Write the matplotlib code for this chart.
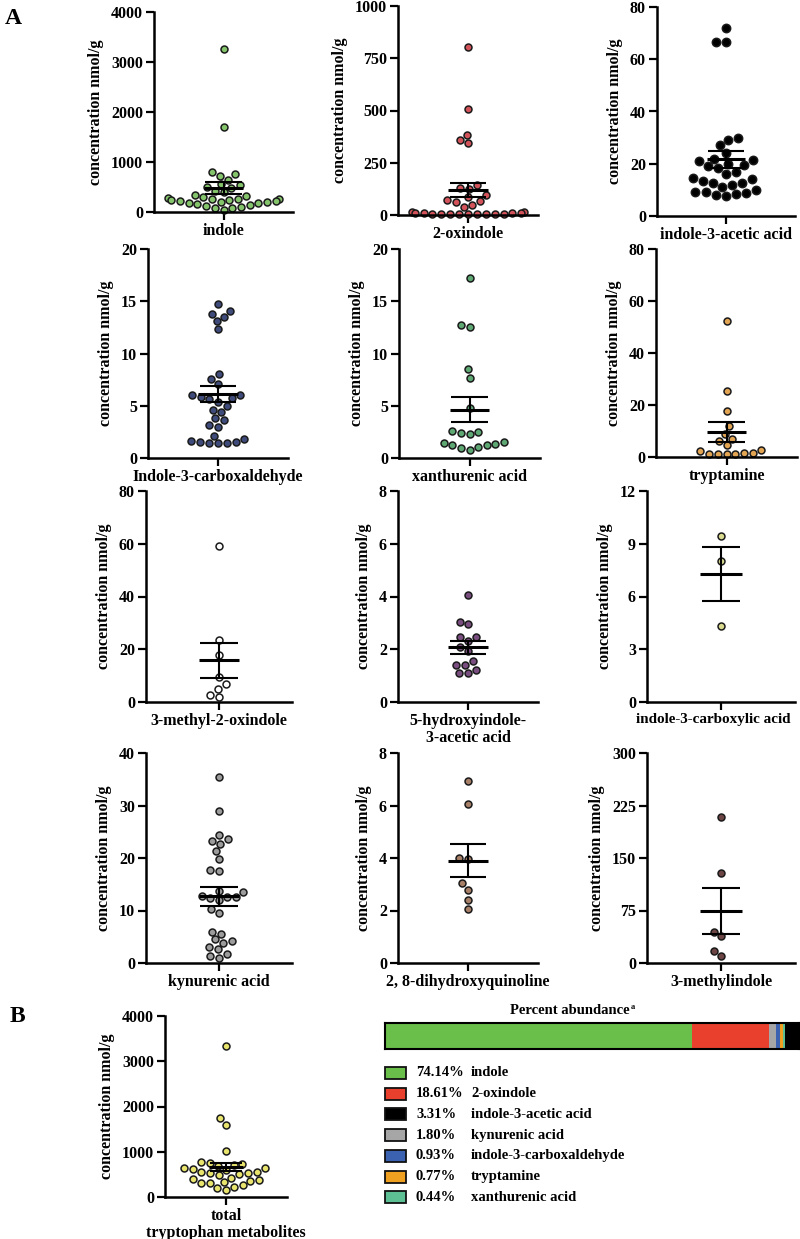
import matplotlib.pyplot as plt
import matplotlib.transforms as mtrans
import numpy as np
import seaborn as sns

plt.rcParams['font.family'] = ['Liberation Serif', 'DejaVu Serif']
plt.rcParams['font.weight'] = 'bold'
plt.rcParams['axes.labelweight'] = 'bold'

W, H = 800, 1239

# values (nmol/g)
indole = [3270, 1700, 800, 760, 730, 650, 560, 540, 510, 480, 420, 400, 340, 320, 300, 280, 270,
          260, 260, 250, 240, 230, 220, 210, 200, 190, 180, 160, 150, 120, 100, 90, 80, 50]
oxindole = [805, 505, 385, 360, 345, 145, 130, 125, 95, 85, 70, 65, 60, 50, 40, 15, 12, 10, 10,
            8, 8, 6, 6, 5, 5, 5, 5, 5, 5, 5]
iaa = [72, 66.5, 66.5, 30, 29, 27, 24, 22, 21.5, 21, 20, 19.5, 19, 18.5, 17, 16, 14.5, 14, 13.5,
       12.5, 12.5, 12, 11, 10, 9, 9, 8.8, 8.5, 8, 7.5]
i3ald = [14.7, 14.1, 13.8, 13.5, 13.1, 12.3, 8.0, 7.6, 7.1, 6.0, 6.0, 5.8, 5.7, 5.6, 5.4, 5.0, 4.6,
         4.4, 3.8, 3.6, 3.2, 3.0, 2.1, 1.8, 1.6, 1.5, 1.5, 1.4, 1.4, 1.4]
xanth = [17.2, 12.7, 12.5, 8.5, 7.7, 4.8, 2.6, 2.5, 2.4, 2.3, 1.5, 1.4, 1.3, 1.2, 1.2, 1.1, 1.0, 0.8]
trypt = [52.5, 25.3, 17.6, 12.0, 9.0, 7.0, 6.3, 4.5, 2.6, 2.2, 1.5, 1.5, 1.3, 1.0, 1.0, 1.0]
m2ox = [59, 23.5, 17.7, 9.5, 6.7, 5.0, 2.5, 1.8]
hiaa = [4.05, 3.05, 2.95, 2.45, 2.45, 2.3, 2.1, 1.95, 1.55, 1.4, 1.4, 1.2, 1.1, 1.1]
i3cooh = [9.45, 8.0, 4.35]
kyna = [35.5, 29, 24.3, 23.6, 23.3, 22.7, 21.3, 19.8, 17.7, 17.6, 13.8, 13.5, 12.7, 12.5, 12.5,
        12.3, 12.0, 10.3, 9.5, 6.0, 5.6, 4.5, 4.2, 3.9, 3.0, 2.6, 1.8, 1.3, 1.0]
dhq = [6.95, 6.05, 4.0, 3.95, 3.05, 2.8, 2.4, 2.05]
mindole = [208, 128, 45, 38, 17, 10]
total = [3330, 1740, 1600, 1020, 780, 760, 740, 700, 690, 650, 640, 620, 600, 560, 560, 540, 520,
         500, 490, 420, 400, 380, 360, 330, 320, 300, 260, 230, 200, 150]

names = ['indole', '2-oxindole', 'indole-3-acetic acid', 'Indole-3-carboxaldehyde',
         'xanthurenic acid', 'tryptamine', '3-methyl-2-oxindole', '5-hydroxyindole-\n3-acetic acid',
         'indole-3-carboxylic acid', 'kynurenic acid', '2, 8-dihydroxyquinoline', '3-methylindole',
         'total\ntryptophan metabolites']
series = [indole, oxindole, iaa, i3ald, xanth, trypt, m2ox, hiaa, i3cooh, kyna, dhq, mindole, total]
# mean and SEM as drawn
means = [480, 120, 21.7, 6.15, 4.6, 9.6, 15.8, 2.07, 7.27, 12.7, 3.9, 74.5, 669]
sems = [120, 33, 3.2, 0.75, 1.2, 3.7, 6.7, 0.25, 1.52, 1.78, 0.62, 32.5, 90]
ymax = [4000, 1000, 80, 20, 20, 80, 80, 8, 12, 40, 8, 300, 4000]
ystep = [1000, 250, 20, 5, 5, 20, 20, 2, 3, 10, 2, 75, 1000]

fills = ['#84c46b', '#d4535a', '#000000', '#3e4b7b', '#5ea874', '#e3a552', '#ffffff', '#7a4d80',
         '#d9da8e', '#9c9c9c', '#a88068', '#6e4545', '#e8e46c']
msize = [5, 5, 6, 5, 5, 5, 5, 5, 5, 5, 5, 5, 5]
name_size = [11.5, 11.5, 11.5, 11.5, 11.5, 11.5, 11.5, 11.5, 10.9, 11.5, 11.5, 11.5, 11.5]
name_dx = [0, 0, 0, 0, 0, 0, 0, 0, -8, 0, 0, 0, 0]

# axes boxes in pixels: left, right, top, bottom
boxes = [(154, 293, 12, 212), (398, 538, 6, 215), (657, 795, 7, 216),
         (148, 288, 249, 458), (399, 540, 249, 458), (656, 797, 249, 457),
         (146, 292, 491, 702), (398, 538, 491, 702), (647, 795, 491, 702),
         (146, 292, 753, 963), (398, 538, 753, 963), (647, 795, 753, 963),
         (165, 287, 1016, 1197)]

fig = plt.figure(figsize=(W / 100, H / 100), dpi=100)


def add_ax(l, r, t, b):
    return fig.add_axes([l / W, 1 - b / H, (r - l) / W, (b - t) / H])


for i in range(len(series)):
    ax = add_ax(*boxes[i])
    sns.swarmplot(y=series[i], ax=ax, color=fills[i], edgecolor='#1a1a1a', linewidth=1.1,
                  size=msize[i], zorder=2, clip_on=False, warn_thresh=1)
    m, s = means[i], sems[i]
    ax.hlines(m, -0.14, 0.14, color='k', lw=2.2, zorder=4)
    ax.hlines([m - s, m + s], -0.13, 0.13, color='k', lw=1.5, zorder=4)
    ax.vlines(0, m - s, m + s, color='k', lw=1.5, zorder=4)
    ax.set_xlim(-0.5, 0.5)
    ax.set_ylim(0, ymax[i])
    ax.tick_params(direction='out', length=6, width=1.6, labelsize=11.5, pad=2)
    ax.set_yticks(np.arange(0, ymax[i] + ystep[i] / 2, ystep[i]))
    ax.set_xticks([0])
    ax.set_xticklabels([names[i]], fontsize=name_size[i], linespacing=1.1)
    if name_dx[i]:
        shift = mtrans.ScaledTranslation(name_dx[i] / 100, 0, fig.dpi_scale_trans)
        for lbl in ax.get_xticklabels():
            lbl.set_transform(lbl.get_transform() + shift)
    ax.set_ylabel('concentration nmol/g', fontsize=11.5, labelpad=5)
    ax.set_xlabel('')
    for sp in ['top', 'right']:
        ax.spines[sp].set_visible(False)
    for sp in ['left', 'bottom']:
        ax.spines[sp].set_linewidth(1.8)

fig.text(5 / W, 1 - 18 / H, 'A', fontsize=17, fontweight='bold', va='center')
fig.text(10 / W, 1 - 1017 / H, 'B', fontsize=17, fontweight='bold', va='center')

# percent abundance stacked bar
bar_names = ['indole', '2-oxindole', 'kynurenic acid', 'indole-3-carboxaldehyde', 'tryptamine',
             'xanthurenic acid', 'indole-3-acetic acid']
bar_pct = [74.14, 18.61, 1.80, 0.93, 0.77, 0.44, 3.31]
bar_cols = ['#6abf4b', '#e8402c', '#a6a6a6', '#3a62b0', '#f0a020', '#5dbf94', '#000000']

legend_names = ['indole', '2-oxindole', 'indole-3-acetic acid', 'kynurenic acid',
                'indole-3-carboxaldehyde', 'tryptamine', 'xanthurenic acid']
legend_pct = [74.14, 18.61, 3.31, 1.80, 0.93, 0.77, 0.44]
legend_cols = ['#6abf4b', '#e8402c', '#000000', '#a6a6a6', '#3a62b0', '#f0a020', '#5dbf94']

axb = add_ax(385, 799, 1023, 1049)
left = 0
for p, c in zip(bar_pct, bar_cols):
    axb.barh(0, p, left=left, color=c, height=1, edgecolor='none')
    left += p
axb.set_xlim(0, sum(bar_pct))
axb.set_ylim(-0.5, 0.5)
axb.set_xticks([])
axb.set_yticks([])
for sp in axb.spines.values():
    sp.set_linewidth(1.5)

fig.text(570 / W, 1 - 1011 / H, 'Percent abundance', fontsize=10.5, ha='center', va='center')
fig.text(631 / W, 1 - 1007 / H, 'a', fontsize=6, ha='left', va='center')

for k in range(len(legend_names)):
    y = 1073 + k * 20.7
    fig.patches.append(plt.Rectangle((385 / W, 1 - (y + 6) / H), 21 / W, 12 / H,
                                     transform=fig.transFigure, facecolor=legend_cols[k],
                                     edgecolor='#111111', lw=1.3))
    fig.text(416 / W, 1 - y / H, f'{legend_pct[k]:.2f}%', fontsize=10.5, va='center')
    fig.text(471 / W, 1 - y / H, legend_names[k], fontsize=10.5, va='center')

fig.savefig('out.png', dpi=100)
